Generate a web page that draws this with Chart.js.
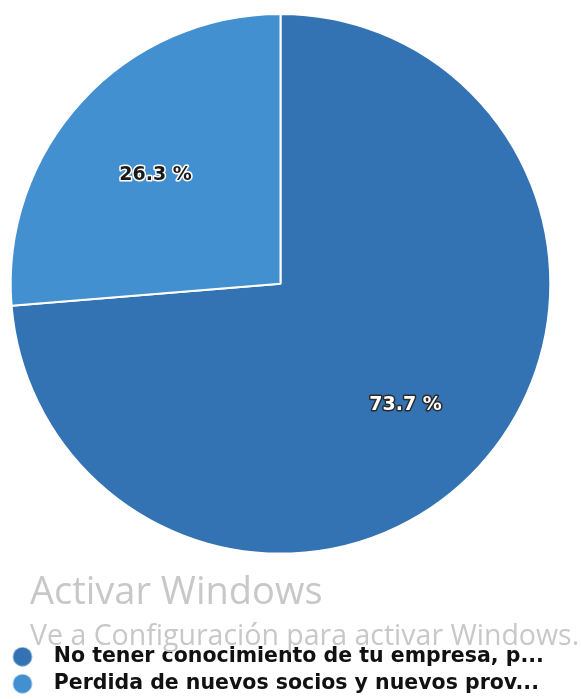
<!DOCTYPE html>
<html>
<head>
<meta charset="utf-8">
<script src="https://cdn.jsdelivr.net/npm/chart.js@4/dist/chart.umd.min.js"></script>
<style>
  html, body { margin: 0; padding: 0; background: #fff; }
  #wrap { position: relative; width: 581px; height: 699px; }
  #watermark { position: absolute; left: 30px; top: 0; pointer-events: none; font-family: "Open Sans", sans-serif; color: #c8c8c8; }
  #watermark .l1 { position: absolute; top: 563px; font-size: 38px; white-space: nowrap; }
  #watermark .l2 { position: absolute; top: 615px; font-size: 28.5px; white-space: nowrap; }
</style>
</head>
<body>
<div id="wrap">
  <canvas id="pie" width="581" height="699"></canvas>
  <div id="watermark">
    <div class="l1">Activar Windows</div>
    <div class="l2">Ve a Configuración para activar Windows.</div>
  </div>
</div>
<script>
var labels = ["No tener conocimiento de tu empresa, p...", "Perdida de nuevos socios y nuevos prov..."];
var values = [73.7, 26.3];
var colors = ["#3473b3", "#4390d0"];
var labelFill = ["#ffffff", "#1a1a1a"];
var labelStroke = ["#2a2a2a", "#ffffff"];

// little canvas with the dot drawn off centre so the legend text sits further right
function dotImage(color) {
  var c = document.createElement('canvas');
  c.width = 40;
  c.height = 20;
  var g = c.getContext('2d');
  g.fillStyle = color;
  g.beginPath();
  g.arc(13, 10, 9.5, 0, Math.PI * 2);
  g.fill();
  return c;
}

var sliceLabels = {
  id: 'sliceLabels',
  afterDatasetsDraw: function(chart) {
    var ctx = chart.ctx;
    var meta = chart.getDatasetMeta(0);
    ctx.save();
    ctx.font = 'bold 19px "DejaVu Sans"';
    ctx.textAlign = 'center';
    ctx.textBaseline = 'middle';
    ctx.lineJoin = 'round';
    meta.data.forEach(function(arc, i) {
      var p = arc.getProps(['x', 'y', 'startAngle', 'endAngle', 'outerRadius'], true);
      var mid = (p.startAngle + p.endAngle) / 2;
      var r = p.outerRadius * 0.63;
      var x = p.x + Math.cos(mid) * r;
      var y = p.y + Math.sin(mid) * r + 6;
      var txt = values[i].toFixed(1) + ' %';
      ctx.lineWidth = 3;
      ctx.strokeStyle = labelStroke[i];
      ctx.strokeText(txt, x, y);
      ctx.fillStyle = labelFill[i];
      ctx.fillText(txt, x, y);
    });
    ctx.restore();
  }
};

var chart = new Chart(document.getElementById('pie'), {
  type: 'pie',
  data: {
    labels: labels,
    datasets: [{
      data: values,
      backgroundColor: colors,
      borderColor: '#ffffff',
      borderWidth: 2
    }]
  },
  options: {
    responsive: false,
    animation: false,
    layout: {
      padding: { top: 13, left: 9, right: 29, bottom: -5 }
    },
    plugins: {
      tooltip: { enabled: false },
      title: {
        display: true,
        text: ' ',
        position: 'bottom',
        weight: 500,
        font: { size: 12 },
        padding: { top: 35.5, bottom: 35.5 }
      },
      legend: {
        position: 'bottom',
        align: 'start',
        labels: {
          usePointStyle: true,
          pointStyleWidth: 28,
          padding: 6.5,
          color: '#111111',
          font: { family: '"DejaVu Sans"', size: 20.5, weight: 'bold' },
          generateLabels: function(chart) {
            var items = Chart.overrides.pie.plugins.legend.labels.generateLabels(chart);
            items.forEach(function(item, i) {
              item.pointStyle = dotImage(colors[i]);
            });
            return items;
          }
        }
      }
    }
  },
  plugins: [sliceLabels]
});
</script>
</body>
</html>
